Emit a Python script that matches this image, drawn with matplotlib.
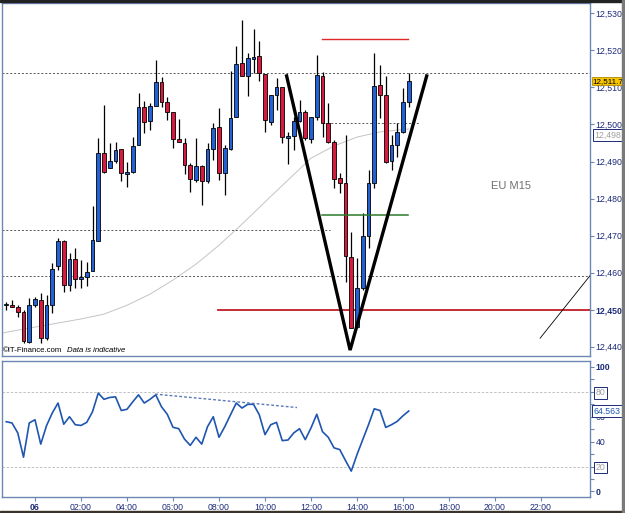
import numpy as np
import matplotlib
matplotlib.use("Agg")
import matplotlib.pyplot as plt
from matplotlib.patches import Rectangle
from matplotlib.transforms import blended_transform_factory

plt.rcParams["font.family"] = ["Liberation Sans", "DejaVu Sans"]

# 15-minute bars, hours relative to 06 00:00
bar_hours = np.arange(71) * 0.25 - 1.25

opens = [12451.3, 12451.4, 12450.8, 12449.4, 12441.3, 12451.2, 12452.6, 12442.3, 12451.2, 12461.9,
         12468.6, 12456.6, 12463.7, 12458.2, 12458.9, 12460.4, 12468.6, 12492.2, 12488.2, 12490.1,
         12493.3, 12486.5, 12487.2, 12494.4, 12504.6, 12500.9, 12505.0, 12511.4, 12506.0, 12503.3,
         12496.0, 12495.1, 12489.1, 12485.0, 12488.9, 12484.8, 12493.3, 12499.2, 12486.8, 12493.3,
         12501.9, 12516.5, 12513.2, 12517.7, 12518.6, 12513.6, 12500.7, 12507.9, 12510.2, 12496.3,
         12496.9, 12501.0, 12503.3, 12496.0, 12501.9, 12513.1, 12500.3, 12495.3, 12485.5, 12484.1,
         12464.3, 12445.4, 12455.9, 12469.9, 12484.1, 12510.6, 12508.0, 12490.1, 12494.4, 12497.9,
         12506.0]
highs = [12452.1, 12452.6, 12451.3, 12449.9, 12453.1, 12453.5, 12454.4, 12454.0, 12462.7, 12469.3,
         12468.8, 12465.2, 12466.6, 12463.4, 12462.9, 12478.0, 12496.3, 12505.2, 12494.9, 12495.3,
         12493.3, 12489.9, 12496.5, 12508.4, 12506.4, 12505.7, 12517.4, 12512.9, 12507.5, 12503.3,
         12501.4, 12496.3, 12489.5, 12496.3, 12489.1, 12494.9, 12500.5, 12504.4, 12494.4, 12514.4,
         12521.2, 12528.2, 12519.2, 12525.8, 12522.6, 12513.6, 12507.9, 12512.5, 12510.2, 12498.0,
         12502.1, 12506.6, 12503.9, 12501.9, 12518.8, 12514.2, 12505.7, 12495.8, 12486.8, 12497.2,
         12471.0, 12463.9, 12476.0, 12487.7, 12519.4, 12516.0, 12513.1, 12497.2, 12500.3, 12509.8,
         12513.8]
lows = [12449.9, 12450.6, 12448.1, 12441.1, 12441.1, 12450.8, 12441.1, 12441.8, 12449.0, 12460.7,
        12454.8, 12455.1, 12455.8, 12455.8, 12456.4, 12460.4, 12468.6, 12486.8, 12488.2, 12489.5,
        12484.7, 12483.2, 12487.0, 12494.4, 12497.6, 12498.5, 12505.0, 12504.8, 12501.2, 12493.7,
        12495.3, 12486.6, 12481.7, 12484.5, 12478.4, 12484.1, 12490.4, 12485.0, 12481.1, 12493.1,
        12501.9, 12513.1, 12507.7, 12513.8, 12511.7, 12498.0, 12499.9, 12503.9, 12494.9, 12489.3,
        12493.1, 12500.7, 12495.8, 12494.9, 12501.2, 12496.7, 12494.9, 12482.8, 12481.4, 12457.5,
        12445.0, 12445.0, 12455.3, 12466.6, 12482.8, 12501.7, 12489.5, 12487.7, 12491.3, 12497.6,
        12504.8]
closes = [12451.3, 12450.6, 12449.4, 12441.6, 12451.4, 12452.8, 12442.4, 12451.2, 12460.9, 12468.6,
          12456.6, 12463.7, 12458.2, 12458.9, 12460.1, 12468.8, 12492.2, 12487.2, 12490.1, 12493.1,
          12486.8, 12487.2, 12494.3, 12504.6, 12500.7, 12505.1, 12511.4, 12506.1, 12503.3, 12496.0,
          12495.3, 12489.1, 12485.3, 12488.9, 12484.8, 12493.4, 12499.1, 12486.8, 12493.6, 12501.7,
          12516.3, 12513.1, 12517.9, 12518.3, 12513.8, 12501.2, 12507.9, 12510.0, 12496.5, 12496.9,
          12501.0, 12503.3, 12496.3, 12501.9, 12513.4, 12500.3, 12495.3, 12485.3, 12484.3, 12464.5,
          12445.0, 12455.8, 12469.9, 12484.1, 12510.3, 12508.0, 12489.9, 12494.4, 12497.9, 12506.0,
          12511.7]

rsi = [56, 55, 47, 27.5, 55, 57.6, 38, 52.8, 63, 71,
       54, 60, 53.6, 53, 55.5, 64, 79, 74, 75.5, 76,
       65, 66, 72, 77.6, 71, 74, 77.6, 68, 62, 51.5,
       50.4, 42, 37, 43.5, 38, 52, 60, 43.5, 52, 61.6,
       71, 67, 70, 70, 61.6, 45.6, 53.6, 55.5, 40.8, 41.3,
       47, 50.4, 41.6, 51, 62, 48, 43.5, 35, 33.6, 24.8,
       16.3, 29.6, 41.6, 53.6, 66.4, 65, 51.4, 53.6, 56.3, 60.8,
       64.6]

# slow moving average, read hourly
ma_hours = [-1.43, -1, 0, 1, 2, 3, 4, 5, 6, 7, 8, 9, 10, 11, 12, 13, 14, 15, 16.25]
ma_values = [12443.7, 12444.2, 12445.3, 12446.4, 12447.5, 12448.8, 12451.2, 12454.2, 12458.0,
             12462.3, 12467.4, 12473.1, 12479.1, 12485.0, 12490.9, 12494.2, 12496.6, 12498.0,
             12498.8]

price_ticks = [12440, 12450, 12460, 12470, 12480, 12490, 12500, 12510, 12520, 12530]
rsi_ticks = [0, 20, 40, 60, 80, 100]
time_ticks = [0, 2, 4, 6, 8, 10, 12, 14, 16, 18, 20, 22]
time_labels = ["06", "02:00", "04:00", "06:00", "08:00", "10:00", "12:00",
               "14:00", "16:00", "18:00", "20:00", "22:00"]

# drawn annotations (hours, price)
v_line_t = [10.94, 13.70, 17.03]
v_line_p = [12513.1, 12439.1, 12513.1]
diag_t = [21.96, 24.3]
diag_p = [12442.3, 12460.5]
last_price = 12511.7
ma_last = 12498
rsi_last = 64.563
rsi_trend_t = [5.22, 11.39]
rsi_trend_v = [78.2, 67.4]

BLUE = "#2262d6"
RED = "#d81a3e"
FRAME = "#6d87b4"
NAVY = "#1c2b78"
XMIN, XMAX = -1.435, 24.13

fig = plt.figure(figsize=(6.25, 5.13), dpi=100)
ax = fig.add_axes([2 / 625, 1 - 356 / 513, 588 / 625, 353 / 513])
ax2 = fig.add_axes([2 / 625, 1 - 497 / 513, 588 / 625, 136.5 / 513])

for a in (ax, ax2):
    a.set_xlim(XMIN, XMAX)
    for s in a.spines.values():
        s.set_color(FRAME)
        s.set_linewidth(1.0)
    a.yaxis.tick_right()
    a.tick_params(axis="y", colors=FRAME, labelcolor=NAVY, labelsize=6.3,
                  length=3, width=0.8, pad=1)

# ---- price panel
ax.set_ylim(12437.5, 12532.8)
ax.set_yticks(price_ticks, [f"{v:,}" for v in price_ticks])
for lbl in ax.get_yticklabels():
    if lbl.get_text() == "12,450":
        lbl.set_fontweight("bold")
ax.set_xticks([])

dot = dict(color="#555555", lw=0.7, ls=(0, (2, 2)))
ax.axhline(12514.0, **dot)
ax.axhline(12459.1, **dot)
ax.plot([XMIN, 12.83], [12471.5, 12471.5], **dot)
ax.plot([12.5, 16.75], [12500.3, 12500.3], **dot)

ax.plot(ma_hours, ma_values, color="#c4c4c4", lw=0.7, zorder=1)

ax.plot([12.47, 16.23], [12523.1, 12523.1], color="#e02828", lw=1.0)
ax.plot([7.97, XMAX], [12450, 12450], color="#c01c28", lw=1.3)

o = np.array(opens)
c = np.array(closes)
colors = [BLUE if ci >= oi else RED for oi, ci in zip(o, c)]
ax.vlines(bar_hours, lows, highs, color="black", lw=0.9, zorder=2)
ax.bar(bar_hours, np.maximum(np.abs(c - o), 0.25), bottom=np.minimum(o, c), width=0.17,
       color=colors, edgecolor="black", linewidth=0.6, zorder=3)

ax.plot([12.47, 16.23], [12475.7, 12475.7], color="#2a7a2a", lw=1.1, zorder=4)
ax.plot(v_line_t, v_line_p, color="black", lw=2.4, solid_joinstyle="miter", zorder=5)
ax.plot(diag_t, diag_p, color="black", lw=0.6, zorder=5)

ax.text(20.7, 12483.4, "EU M15", color="#707070", fontsize=8, ha="center", va="center")
ax.text(0.002, 0.006, "©IT-Finance.com", transform=ax.transAxes, fontsize=5.6, va="bottom")
ax.text(0.11, 0.006, "Data is indicative", transform=ax.transAxes, fontsize=5.6,
        style="italic", va="bottom")

tr = blended_transform_factory(ax.transAxes, ax.transData)
ax.text(1.004, last_price, f"{last_price:,.1f}", transform=tr, fontsize=5.8, va="center",
        ha="left", color="black",
        bbox=dict(boxstyle="square,pad=0.1", fc="#f6c400", ec="#b08a00", lw=0.6),
        clip_on=False, zorder=10)
ax.text(1.008, ma_last - 0.8, f"{ma_last:,}", transform=tr, fontsize=6.3, va="center",
        ha="left", color="#a0a0a0",
        bbox=dict(boxstyle="square,pad=0.2", fc="white", ec=NAVY, lw=0.7),
        clip_on=False, zorder=10)

# ---- oscillator panel
ax2.set_ylim(-4.5, 105.2)
ax2.set_yticks(rsi_ticks, [str(v) for v in rsi_ticks])
ax2.set_yticks(range(10, 100, 20), minor=True)
ax2.tick_params(axis="y", which="minor", colors=FRAME, length=3, width=0.8)
for lbl in ax2.get_yticklabels():
    if lbl.get_text() in ("0", "100"):
        lbl.set_fontweight("bold")
    if lbl.get_text() in ("20", "80"):
        lbl.set_color("#a0a0a0")
        lbl.set_bbox(dict(boxstyle="square,pad=0.15", fc="white", ec=NAVY, lw=0.7))
ax2.axhline(80, color="#b8b8b8", lw=0.6, ls=(0, (3, 2)))
ax2.axhline(20, color="#b8b8b8", lw=0.6, ls=(0, (3, 2)))
ax2.plot(bar_hours, rsi, color="#1f56b0", lw=1.2)
ax2.plot(rsi_trend_t, rsi_trend_v, color="#5a78b8", lw=1.0, ls=(0, (2, 1.5)))

tr2 = blended_transform_factory(ax2.transAxes, ax2.transData)
ax2.text(1.006, rsi_last, f"{rsi_last:.3f}", transform=tr2, fontsize=6.3, va="center",
         ha="left", color="#1f56b0",
         bbox=dict(boxstyle="square,pad=0.15", fc="white", ec=NAVY, lw=0.7),
         clip_on=False, zorder=10)

ax2.set_xticks(time_ticks, time_labels)
ax2.tick_params(axis="x", colors=FRAME, labelcolor=NAVY, labelsize=6.3, length=3,
                width=0.8, pad=1.5)
ax2.get_xticklabels()[0].set_fontweight("bold")

# window frame
fig.patches.append(Rectangle((0, 1 - 2 / 513), 1, 2 / 513, transform=fig.transFigure,
                             color="#222222", zorder=20))
fig.patches.append(Rectangle((0, 0), 1, 2 / 513, transform=fig.transFigure,
                             color="#3a3428", zorder=20))
fig.patches.append(Rectangle((1 - 3 / 625, 0), 3 / 625, 1, transform=fig.transFigure,
                             color="#7a7a7a", zorder=20))

fig.savefig("out.png", dpi=100)
